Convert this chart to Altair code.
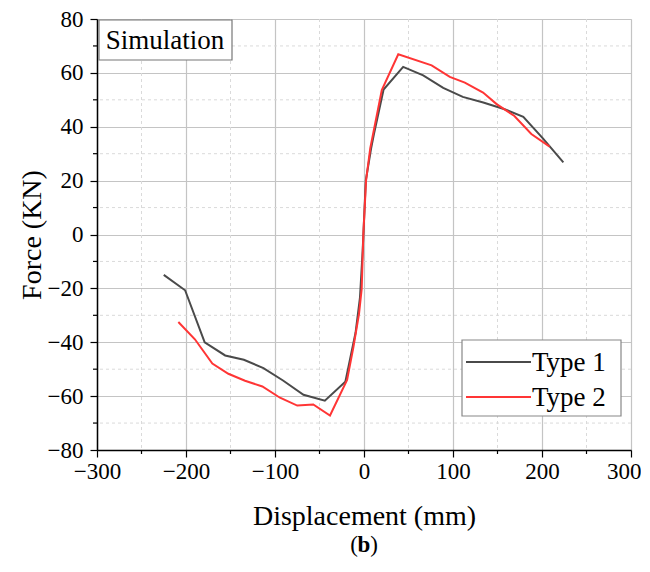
import altair as alt
import pandas as pd

# Type 1 (dark gray) series
t1_x = [-225, -201, -179, -156, -135, -113, -91, -68, -44, -21, -9.5, -4.5, -1.5, 2, 8, 11, 22, 44, 66.5, 89, 111, 134, 158, 179, 201, 224]
t1_y = [-15, -20.7, -40, -44.9, -46.5, -49.6, -54.2, -59.5, -61.7, -54.7, -36.5, -23.3, -6, 20, 32, 37, 53.8, 62.2, 59.1, 54.4, 51.1, 49, 46.5, 43.7, 35.7, 26.8]

# Type 2 (red) series
t2_x = [-208.6, -190, -170.4, -152.4, -133.7, -114.2, -94.4, -75, -57, -38.2, -19, -12, -5.6, -2.6, -0.75, 2.3, 7, 20, 38.5, 76, 96.4, 113.3, 133.8, 149, 169, 188, 208.6]
t2_y = [-32.5, -38.9, -47.9, -51.7, -54.3, -56.4, -60.6, -63.5, -63.1, -67.2, -54, -42, -29.5, -20.2, 0, 20, 32, 53.6, 66.9, 62.8, 58.5, 56.4, 52.7, 48.4, 44, 37.3, 32.6]

series_names = ["Type 1", "Type 2"]
series_colors = ["#4a4a4a", "#ff3535"]

x_major = [-300, -200, -100, 0, 100, 200, 300]
x_minor = [-250, -150, -50, 50, 150, 250]
y_major = [-80, -60, -40, -20, 0, 20, 40, 60, 80]
y_minor = [-70, -50, -30, -10, 10, 30, 50, 70]

W, H = 534, 431
FONT = "Liberation Serif"

rows = []
for i, (x, y) in enumerate(zip(t1_x, t1_y)):
    rows.append({"series": series_names[0], "x": x, "y": y, "o": i})
for i, (x, y) in enumerate(zip(t2_x, t2_y)):
    rows.append({"series": series_names[1], "x": x, "y": y, "o": i})
df = pd.DataFrame(rows)

xs = alt.Scale(domain=[-300, 300], nice=False, zero=False)
ys = alt.Scale(domain=[-80, 80], nice=False, zero=False)

# minor gridlines (dashed)
vminor = alt.Chart(pd.DataFrame({"x": x_minor})).mark_rule(
    color="#dadada", strokeDash=[3, 3], strokeWidth=1
).encode(x=alt.X("x:Q", scale=xs))
hminor = alt.Chart(pd.DataFrame({"y": y_minor})).mark_rule(
    color="#dadada", strokeDash=[3, 3], strokeWidth=1
).encode(y=alt.Y("y:Q", scale=ys))

# minor ticks
xminor_ticks = alt.Chart(pd.DataFrame({"x": x_minor})).mark_rule(
    color="black", strokeWidth=1.2
).encode(x=alt.X("x:Q", scale=xs), y=alt.value(H), y2=alt.value(H + 4))
yminor_ticks = alt.Chart(pd.DataFrame({"y": y_minor})).mark_rule(
    color="black", strokeWidth=1.2
).encode(y=alt.Y("y:Q", scale=ys), x=alt.value(0), x2=alt.value(-4))

axis_common = dict(
    grid=True, gridColor="#c4c4c4", gridWidth=1.2,
    tickSize=7, tickWidth=1.2, domainColor="black", domainWidth=1.5,
    tickColor="black", labelFont=FONT, labelFontSize=23, labelColor="black",
    titleFont=FONT, titleFontSize=28, titleFontWeight="normal",
    titleColor="black", labelFlush=False,
)

x_axis = alt.Axis(
    values=x_major, labelPadding=3,
    labelAlign={"condition": {"test": "datum.value >= 300", "value": "right"}, "value": "center"},
    labelOffset={"condition": {"test": "datum.value >= 300", "value": 10}, "value": 0},
    titleX=W / 2, titleY=66, titleBaseline="middle", titleAlign="center",
    **axis_common,
)
y_axis = alt.Axis(
    values=y_major, labelPadding=7,
    titleX=-65, titleY=H / 2, titleBaseline="middle", titleAlign="center", titleAngle=270,
    **axis_common,
)

lines = alt.Chart(df).mark_line(strokeWidth=2).encode(
    x=alt.X("x:Q", scale=xs, title="Displacement (mm)", axis=x_axis),
    y=alt.Y("y:Q", scale=ys, title="Force (KN)", axis=y_axis),
    color=alt.Color("series:N", scale=alt.Scale(domain=series_names, range=series_colors), legend=None),
    order="o:Q",
)

# Simulation label box
sim_df = pd.DataFrame({"label": ["Simulation"]})
sim_box = alt.Chart(sim_df).mark_rect(fill="white", stroke="#777777", strokeWidth=1.2).encode(
    x=alt.value(2), x2=alt.value(135), y=alt.value(1), y2=alt.value(41)
)
sim_text = alt.Chart(sim_df).mark_text(font=FONT, fontSize=27, color="black", align="center", baseline="middle").encode(
    x=alt.value(68), y=alt.value(22), text="label:N"
)

# Legend (drawn manually)
leg_box = alt.Chart(pd.DataFrame({"a": [0]})).mark_rect(fill="white", stroke="#888888", strokeWidth=1.2).encode(
    x=alt.value(365), x2=alt.value(524), y=alt.value(321), y2=alt.value(397)
)
leg_parts = [leg_box]
for i, (name, col) in enumerate(zip(series_names, series_colors)):
    yy = 343 + 35 * i
    d = pd.DataFrame({"series": [name]})
    leg_parts.append(alt.Chart(d).mark_rule(color=col, strokeWidth=2).encode(
        x=alt.value(369), x2=alt.value(434), y=alt.value(yy)))
    leg_parts.append(alt.Chart(d).mark_text(font=FONT, fontSize=27, color="black", align="left", baseline="middle").encode(
        x=alt.value(435), y=alt.value(yy + 1), text="series:N"))

# Caption "(b)"
CAP_Y = 526
cap_l = alt.Chart(pd.DataFrame({"t": ["("]})).mark_text(font=FONT, fontSize=23, color="black", baseline="middle", align="center").encode(
    x=alt.value(257), y=alt.value(CAP_Y), text="t:N")
cap_b = alt.Chart(pd.DataFrame({"t": ["b"]})).mark_text(font=FONT, fontSize=23, fontWeight="bold", color="black", baseline="middle", align="center").encode(
    x=alt.value(267), y=alt.value(CAP_Y), text="t:N")
cap_r = alt.Chart(pd.DataFrame({"t": [")"]})).mark_text(font=FONT, fontSize=23, color="black", baseline="middle", align="center").encode(
    x=alt.value(277), y=alt.value(CAP_Y), text="t:N")

chart = alt.layer(
    vminor, hminor, xminor_ticks, yminor_ticks, lines, sim_box, sim_text, *leg_parts, cap_l, cap_b, cap_r
).properties(
    width=W, height=H,
    autosize=alt.AutoSizeParams(type="none"),
    padding={"left": 89, "top": 11, "right": 10, "bottom": 108},
).configure_view(
    stroke="black", strokeWidth=1.5
).configure(background="white")

chart.save("out.html", embed_options={"renderer": "svg", "actions": False})
